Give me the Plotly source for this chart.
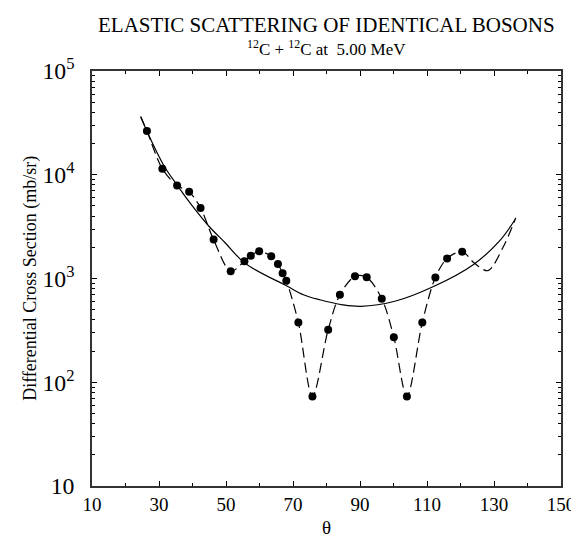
import plotly.graph_objects as go

# Experimental data points (theta in degrees, cross section in mb/sr)
theta_data = [26.4, 31.0, 35.4, 39.0, 42.4, 46.3, 51.4, 55.5, 57.4, 59.9, 63.5, 65.5,
              66.9, 68.0, 71.6, 75.8, 80.5, 84.0, 88.5, 92.0, 96.5, 100.1, 104.0,
              108.6, 112.5, 116.0, 120.5]
sigma_data = [26400, 11400, 7870, 6840, 4790, 2370, 1174, 1466, 1660, 1830, 1637, 1380,
              1122, 953, 377, 73, 321, 698, 1050, 1027, 638, 272, 73,
              377, 1023, 1560, 1815]

# Smooth (solid) curve
theta_smooth = [24.6, 26.6, 31.3, 35.4, 40.0, 44.9, 49.8, 55.6, 68.3, 73.1, 78.0, 84.8,
                90.2, 100.4, 112.1, 123.8, 131.6, 136.3]
sigma_smooth = [36000, 25400, 12500, 7940, 4980, 3190, 2200, 1410, 842, 698, 624, 558,
                539, 603, 842, 1360, 2290, 3700]

# Dashed (oscillating) curve
theta_fit = [24.5, 26.4, 31.0, 35.4, 39.0, 42.4, 46.3, 51.4, 55.5, 57.4, 59.9, 63.5,
             65.5, 66.9, 68.0, 71.6, 75.8, 80.5, 84.0, 88.5, 92.0, 96.5, 100.1, 104.0,
             108.6, 112.5, 116.0, 120.5, 124.0, 128.2, 132.6, 136.5]
sigma_fit = [36500, 26400, 11400, 7870, 6840, 4790, 2370, 1174, 1466, 1660, 1830, 1637,
             1380, 1122, 953, 377, 73, 321, 698, 1050, 1027, 638, 272, 73,
             377, 1023, 1560, 1815, 1420, 1190, 1970, 3840]

x_ticks = [10, 30, 50, 70, 90, 110, 130, 150]

FONT = "Liberation Serif"

fig = go.Figure()
fig.add_trace(go.Scatter(x=theta_smooth, y=sigma_smooth, mode="lines",
                         line=dict(color="black", width=1.2, shape="spline", smoothing=1.0),
                         showlegend=False, hoverinfo="skip"))
fig.add_trace(go.Scatter(x=theta_fit, y=sigma_fit, mode="lines",
                         line=dict(color="black", width=1.2, dash="10px,5px",
                                   shape="spline", smoothing=0.9),
                         showlegend=False, hoverinfo="skip"))
fig.add_trace(go.Scatter(x=theta_data, y=sigma_data, mode="markers",
                         marker=dict(color="black", size=8, symbol="circle"),
                         showlegend=False))

fig.update_layout(
    width=579, height=536,
    margin=dict(l=84, r=16, t=63, b=58),
    paper_bgcolor="white", plot_bgcolor="white",
    font=dict(family=FONT, color="black", size=19),
    xaxis=dict(
        range=[10, 150], tickvals=x_ticks, ticktext=[str(v) for v in x_ticks],
        ticks="inside", ticklen=5, tickwidth=1, tickcolor="black",
        showline=True, linecolor="#333", linewidth=1.5, mirror="ticks",
        showgrid=False, zeroline=False,
        tickfont=dict(family=FONT, size=19),
        minor=dict(ticks="inside", ticklen=3, tickcolor="black", tick0=10, dtick=10),
    ),
    yaxis=dict(
        type="log", range=[1, 5], dtick=1, exponentformat="power",
        ticks="inside", ticklen=5, tickwidth=1, tickcolor="black",
        showline=True, linecolor="#333", linewidth=1.5, mirror="ticks",
        showgrid=False, zeroline=False, ticklabelstandoff=12,
        tickfont=dict(family=FONT, size=19),
        minor=dict(ticks="inside", ticklen=3, tickcolor="black", dtick="D1"),
    ),
    annotations=[
        dict(text="ELASTIC SCATTERING OF IDENTICAL BOSONS", xref="paper", yref="paper",
             x=0.5, y=1 + (63 - 17) / 415, xanchor="center", yanchor="middle",
             showarrow=False, font=dict(family=FONT, size=21)),
        dict(text="<sup>12</sup>C + <sup>12</sup>C at\u00a0\u00a05.00 MeV", xref="paper", yref="paper",
             x=0.5, y=1 + (63 - 40) / 415, xanchor="center", yanchor="middle",
             showarrow=False, font=dict(family=FONT, size=17)),
        dict(text="Differential Cross Section (mb/sr)", xref="paper", yref="paper",
             x=(21 - 84) / 479, y=0.5, xanchor="center", yanchor="middle", textangle=-90,
             showarrow=False, font=dict(family=FONT, size=18)),
        dict(text="θ", xref="paper", yref="paper",
             x=0.5, y=-(519 - 478) / 415, xanchor="center", yanchor="middle",
             showarrow=False, font=dict(family=FONT, size=19)),
    ],
)

fig.write_html("out.html")
